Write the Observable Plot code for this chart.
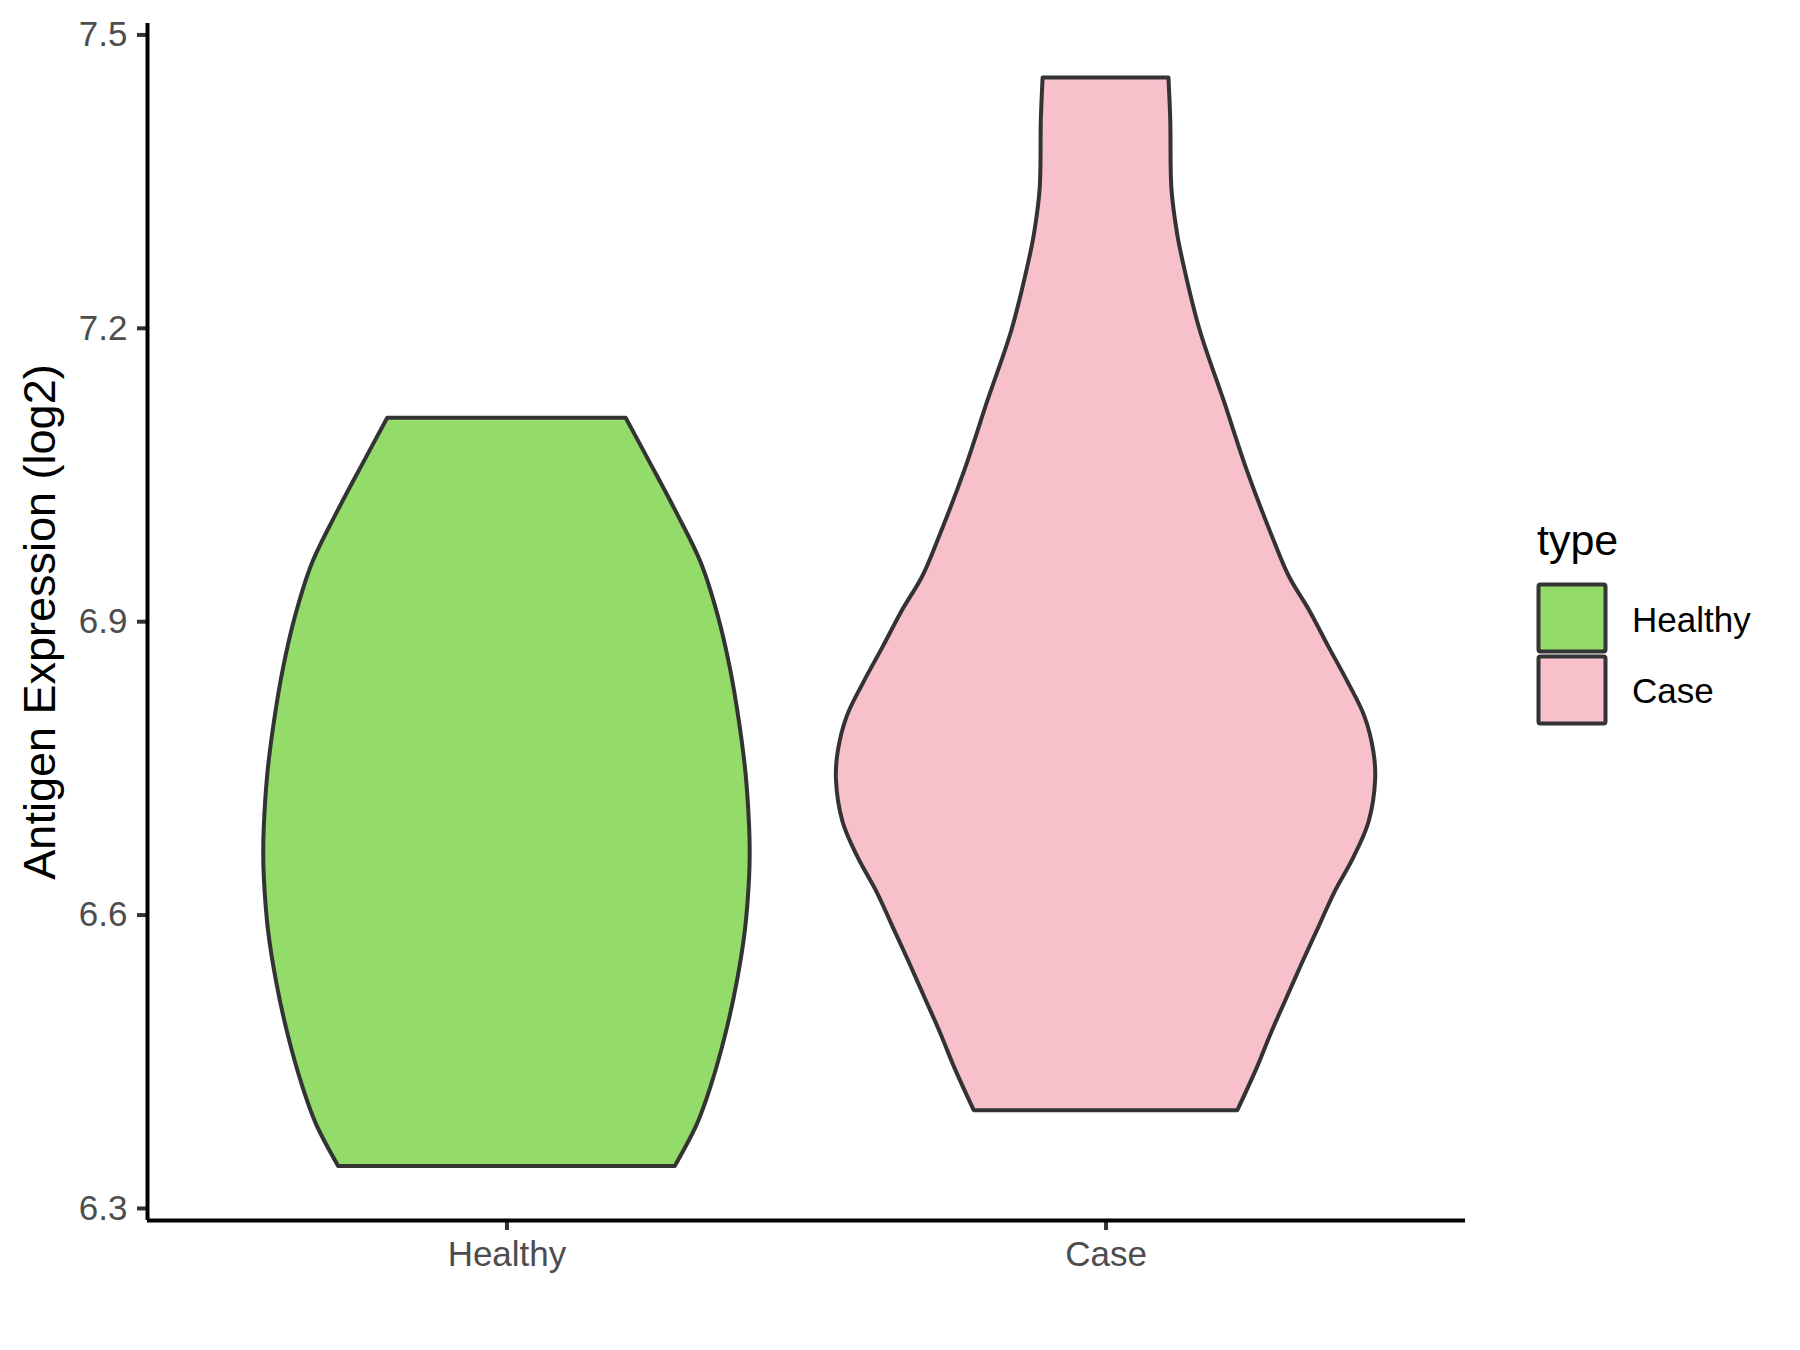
<!DOCTYPE html>
<html><head><meta charset="utf-8">
<script src="https://cdn.jsdelivr.net/npm/d3@7"></script>
<script src="https://cdn.jsdelivr.net/npm/@observablehq/plot@0.6"></script>
<style>body{margin:0;background:#fff;} #chart{width:1800px;height:1350px;}</style>
</head><body><div id="chart"></div>
<script>
const categories = ["Healthy", "Case"];
const fillColors = ["#93DC6A", "#F7C0CB"];
const yTicks = [6.3, 6.6, 6.9, 7.2, 7.5];
const yLabel = "Antigen Expression (log2)";
const legendTitle = "type";

// violin outlines: y value and half-width (in category units)
const healthyY = [6.343, 6.386, 6.423, 6.477, 6.530, 6.584, 6.638, 6.664, 6.691, 6.745, 6.798, 6.852, 6.905, 6.959, 7.013, 7.066, 7.108];
const healthyHalfWidth = [0.281, 0.318, 0.340, 0.365, 0.384, 0.398, 0.405, 0.406, 0.405, 0.399, 0.388, 0.373, 0.353, 0.325, 0.282, 0.236, 0.199];
const caseY = [6.400, 6.443, 6.479, 6.515, 6.551, 6.587, 6.623, 6.659, 6.695, 6.738, 6.767, 6.803, 6.838, 6.874, 6.910, 6.946, 6.982, 7.054, 7.126, 7.198, 7.270, 7.298, 7.342, 7.413, 7.456];
const caseHalfWidth = [0.220, 0.252, 0.276, 0.302, 0.328, 0.355, 0.382, 0.414, 0.439, 0.450, 0.447, 0.432, 0.404, 0.372, 0.341, 0.306, 0.281, 0.236, 0.197, 0.157, 0.128, 0.119, 0.110, 0.108, 0.105];

const groups = [
  {type: "Healthy", pos: 1, ys: healthyY, hws: healthyHalfWidth},
  {type: "Case", pos: 2, ys: caseY, hws: caseHalfWidth}
];
const rows = groups.flatMap(g => g.ys.map((y, i) => ({type: g.type, y, x1: g.pos - g.hws[i], x2: g.pos + g.hws[i]})));

const yMin = 6.2877, yMax = 7.5117, xMin = 0.4, xMax = 2.6;
const font = "'Liberation Sans', Arial, sans-serif";
const lw = 4;

const plot = Plot.plot({
  width: 1800, height: 1350,
  marginLeft: 147, marginRight: 335, marginTop: 23, marginBottom: 130,
  style: {fontFamily: font, background: "white", overflow: "visible"},
  x: {domain: [xMin, xMax], label: null},
  y: {domain: [yMin, yMax], label: null},
  color: {domain: categories, range: fillColors},
  marks: [
    Plot.areaX(rows, {y: "y", x1: "x1", x2: "x2", z: "type", fill: "type", stroke: "#333333", strokeWidth: lw, strokeLinejoin: "round", curve: "catmull-rom"}),
    Plot.axisY({ticks: yTicks, tickFormat: d3.format(".1f"), tickSize: 10, tickPadding: 10, fontSize: 35, label: yLabel, labelArrow: "none", labelAnchor: "center", labelOffset: 124}),
    Plot.axisX({ticks: [1, 2], tickFormat: d => categories[d - 1], tickSize: 10, tickPadding: 11, fontSize: 35, label: null}),
    Plot.ruleX([xMin], {stroke: "black", strokeWidth: lw}),
    Plot.ruleY([yMin], {stroke: "black", strokeWidth: lw})
  ]
});
document.getElementById("chart").appendChild(plot);

const svg = d3.select(plot);
svg.selectAll('g[aria-label="y-axis tick"], g[aria-label="x-axis tick"]').attr("stroke", "#333333").attr("stroke-width", lw);
svg.selectAll('g[aria-label="y-axis tick label"], g[aria-label="x-axis tick label"]').attr("fill", "#4D4D4D");
svg.selectAll('g[aria-label="y-axis label"]').attr("font-size", 45).attr("fill", "black");
svg.selectAll('g[aria-label="y-axis label"] text').text(function() { return this.textContent.replace(/[\u2190-\u2193]/g, "").trim(); });

// legend
const lg = svg.append("g").attr("font-family", font).attr("text-anchor", "start");
lg.append("text").attr("x", 1537).attr("y", 555).attr("font-size", 43).attr("fill", "black").text(legendTitle);
categories.forEach((c, i) => {
  lg.append("rect").attr("x", 1538.5).attr("y", 584.5 + i * 72).attr("width", 67).attr("height", 67)
    .attr("rx", 2).attr("fill", fillColors[i]).attr("stroke", "#333333").attr("stroke-width", lw);
  lg.append("text").attr("x", 1632).attr("y", 632 + i * 71).attr("font-size", 35).attr("fill", "black").text(c);
});
</script>
</body></html>
